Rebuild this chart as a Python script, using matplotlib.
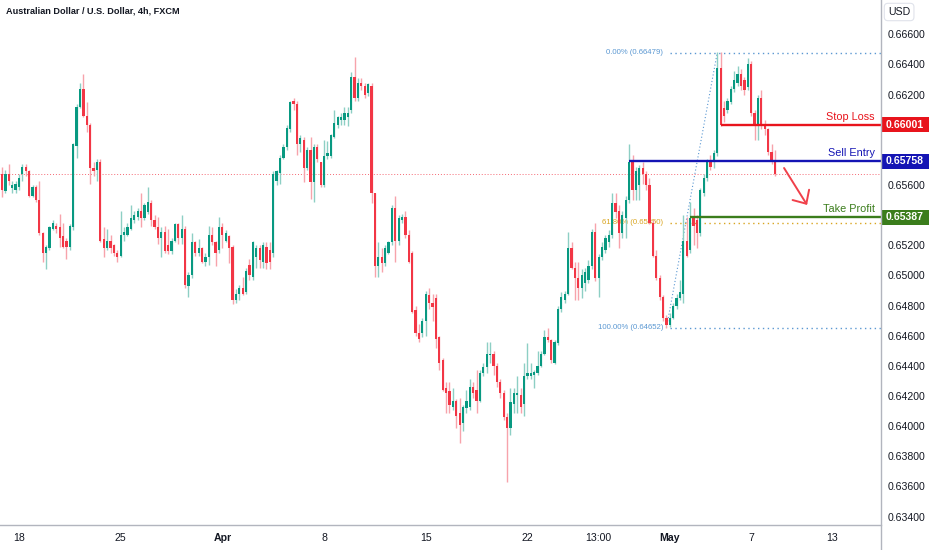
import matplotlib
matplotlib.use("Agg")
import matplotlib.pyplot as plt
import numpy as np
from matplotlib.transforms import blended_transform_factory
from matplotlib.patches import Rectangle
from matplotlib.lines import Line2D

plt.rcParams['font.family'] = ['Liberation Sans', 'DejaVu Sans']

# ---------------- data (AUD/USD, 4h candles) ----------------
opens = [
    0.6567, 0.6556, 0.6567, 0.6558, 0.6557, 0.6559, 0.6567, 0.6572, 0.6569, 0.6553,
    0.6559, 0.6550, 0.6528, 0.6515, 0.6518, 0.6531, 0.6533, 0.6532, 0.6526, 0.6523,
    0.6519, 0.6532, 0.6586, 0.6612, 0.6624, 0.6606, 0.6600, 0.6571, 0.6570, 0.6575,
    0.6524, 0.6518, 0.6523, 0.6520, 0.6515, 0.6513, 0.6527, 0.6527, 0.6531, 0.6537,
    0.6539, 0.6543, 0.6538, 0.6542, 0.6548, 0.6537, 0.6532, 0.6525, 0.6529, 0.6520,
    0.6516, 0.6523, 0.6534, 0.6525, 0.6531, 0.6493, 0.6500, 0.6522, 0.6515, 0.6518,
    0.6509, 0.6512, 0.6527, 0.6522, 0.6517, 0.6532, 0.6523, 0.6526, 0.6519, 0.6484,
    0.6488, 0.6492, 0.6489, 0.6507, 0.6499, 0.6512, 0.6518, 0.6509, 0.6519, 0.6517,
    0.6515, 0.6563, 0.6568, 0.6578, 0.6585, 0.6597, 0.6616, 0.6614, 0.6587, 0.6590,
    0.6571, 0.6583, 0.6562, 0.6585, 0.6575, 0.6560, 0.6579, 0.6579, 0.6592, 0.6600,
    0.6603, 0.6603, 0.6605, 0.6610, 0.6632, 0.6618, 0.6628, 0.6626, 0.6621, 0.6626,
    0.6555, 0.6506, 0.6512, 0.6508, 0.6515, 0.6522, 0.6545, 0.6523, 0.6537, 0.6539,
    0.6527, 0.6515, 0.6477, 0.6462, 0.6462, 0.6470, 0.6487, 0.6482, 0.6485, 0.6459,
    0.6444, 0.6425, 0.6423, 0.6413, 0.6417, 0.6409, 0.6402, 0.6412, 0.6413, 0.6426,
    0.6424, 0.6417, 0.6435, 0.6439, 0.6447, 0.6448, 0.6440, 0.6429, 0.6422, 0.6406,
    0.6399, 0.6415, 0.6421, 0.6421, 0.6415, 0.6433, 0.6433, 0.6434, 0.6435, 0.6440,
    0.6448, 0.6459, 0.6457, 0.6442, 0.6455, 0.6478, 0.6484, 0.6488, 0.6518, 0.6505,
    0.6498, 0.6492, 0.6495, 0.6497, 0.6506, 0.6529, 0.6498, 0.6512, 0.6517, 0.6522,
    0.6527, 0.6548, 0.6543, 0.6528, 0.6538, 0.6550, 0.6575, 0.6557, 0.6560, 0.6571,
    0.6567, 0.6560, 0.6535, 0.6513, 0.6498, 0.6486, 0.6472, 0.6467, 0.6472, 0.6480,
    0.6485, 0.6488, 0.6523, 0.6517, 0.6538, 0.6537, 0.6528, 0.6555, 0.6565, 0.6575,
    0.6575, 0.6581, 0.6638, 0.6611, 0.6610, 0.6615, 0.6624, 0.6628, 0.6634, 0.6630,
    0.6625, 0.6640, 0.6608, 0.6600, 0.6618, 0.6600, 0.6597, 0.6582, 0.6575,
]
highs = [
    0.6572, 0.6570, 0.6574, 0.6563, 0.6563, 0.6567, 0.6574, 0.6574, 0.6570, 0.6560,
    0.6560, 0.6563, 0.6529, 0.6520, 0.6533, 0.6537, 0.6535, 0.6541, 0.6535, 0.6525,
    0.6534, 0.6588, 0.6614, 0.6628, 0.6634, 0.6615, 0.6601, 0.6575, 0.6577, 0.6577,
    0.6532, 0.6531, 0.6527, 0.6521, 0.6517, 0.6543, 0.6532, 0.6535, 0.6547, 0.6543,
    0.6545, 0.6555, 0.6548, 0.6559, 0.6550, 0.6540, 0.6539, 0.6532, 0.6533, 0.6531,
    0.6525, 0.6535, 0.6535, 0.6540, 0.6533, 0.6502, 0.6528, 0.6523, 0.6524, 0.6519,
    0.6515, 0.6533, 0.6532, 0.6523, 0.6539, 0.6535, 0.6530, 0.6527, 0.6520, 0.6491,
    0.6494, 0.6499, 0.6505, 0.6511, 0.6523, 0.6520, 0.6520, 0.6522, 0.6522, 0.6522,
    0.6569, 0.6570, 0.6580, 0.6587, 0.6600, 0.6616, 0.6618, 0.6616, 0.6593, 0.6592,
    0.6585, 0.6592, 0.6587, 0.6587, 0.6575, 0.6590, 0.6589, 0.6594, 0.6610, 0.6606,
    0.6608, 0.6612, 0.6612, 0.6635, 0.6645, 0.6631, 0.6631, 0.6628, 0.6628, 0.6628,
    0.6555, 0.6522, 0.6518, 0.6520, 0.6523, 0.6547, 0.6553, 0.6540, 0.6541, 0.6543,
    0.6530, 0.6516, 0.6480, 0.6468, 0.6472, 0.6490, 0.6492, 0.6488, 0.6488, 0.6460,
    0.6445, 0.6429, 0.6429, 0.6425, 0.6418, 0.6419, 0.6414, 0.6424, 0.6431, 0.6429,
    0.6437, 0.6437, 0.6442, 0.6456, 0.6456, 0.6450, 0.6442, 0.6431, 0.6424, 0.6409,
    0.6425, 0.6425, 0.6433, 0.6425, 0.6442, 0.6455, 0.6442, 0.6437, 0.6450, 0.6450,
    0.6464, 0.6465, 0.6458, 0.6457, 0.6480, 0.6489, 0.6490, 0.6529, 0.6522, 0.6509,
    0.6509, 0.6504, 0.6505, 0.6510, 0.6531, 0.6535, 0.6514, 0.6522, 0.6527, 0.6530,
    0.6555, 0.6555, 0.6547, 0.6543, 0.6553, 0.6587, 0.6580, 0.6572, 0.6573, 0.6575,
    0.6569, 0.6565, 0.6537, 0.6517, 0.6500, 0.6487, 0.6474, 0.6475, 0.6482, 0.6488,
    0.6497, 0.6540, 0.6539, 0.6549, 0.6545, 0.6540, 0.6558, 0.6567, 0.6577, 0.6580,
    0.6583, 0.6648, 0.6648, 0.6616, 0.6618, 0.6626, 0.6636, 0.6639, 0.6637, 0.6632,
    0.6644, 0.6642, 0.6610, 0.6620, 0.6623, 0.6603, 0.6598, 0.6587, 0.6583,
]
lows = [
    0.6552, 0.6555, 0.6560, 0.6555, 0.6555, 0.6557, 0.6563, 0.6566, 0.6552, 0.6552,
    0.6549, 0.6527, 0.6509, 0.6504, 0.6517, 0.6530, 0.6528, 0.6519, 0.6518, 0.6511,
    0.6517, 0.6530, 0.6578, 0.6611, 0.6605, 0.6595, 0.6561, 0.6566, 0.6563, 0.6522,
    0.6512, 0.6517, 0.6515, 0.6513, 0.6509, 0.6512, 0.6523, 0.6526, 0.6530, 0.6535,
    0.6537, 0.6532, 0.6537, 0.6541, 0.6533, 0.6531, 0.6521, 0.6512, 0.6515, 0.6514,
    0.6514, 0.6522, 0.6521, 0.6521, 0.6492, 0.6486, 0.6498, 0.6513, 0.6513, 0.6508,
    0.6506, 0.6507, 0.6520, 0.6506, 0.6515, 0.6518, 0.6522, 0.6508, 0.6481, 0.6482,
    0.6484, 0.6487, 0.6488, 0.6497, 0.6497, 0.6505, 0.6505, 0.6505, 0.6504, 0.6504,
    0.6512, 0.6560, 0.6561, 0.6577, 0.6583, 0.6595, 0.6610, 0.6580, 0.6582, 0.6562,
    0.6570, 0.6551, 0.6549, 0.6575, 0.6559, 0.6559, 0.6577, 0.6578, 0.6591, 0.6598,
    0.6600, 0.6600, 0.6599, 0.6608, 0.6616, 0.6616, 0.6623, 0.6618, 0.6619, 0.6548,
    0.6499, 0.6499, 0.6502, 0.6506, 0.6514, 0.6520, 0.6509, 0.6520, 0.6535, 0.6525,
    0.6508, 0.6475, 0.6460, 0.6456, 0.6459, 0.6460, 0.6478, 0.6470, 0.6452, 0.6437,
    0.6423, 0.6409, 0.6409, 0.6411, 0.6399, 0.6389, 0.6397, 0.6409, 0.6411, 0.6419,
    0.6409, 0.6416, 0.6433, 0.6435, 0.6442, 0.6434, 0.6426, 0.6419, 0.6404, 0.6363,
    0.6394, 0.6409, 0.6409, 0.6409, 0.6407, 0.6431, 0.6431, 0.6425, 0.6434, 0.6439,
    0.6447, 0.6456, 0.6442, 0.6441, 0.6454, 0.6476, 0.6482, 0.6487, 0.6504, 0.6484,
    0.6484, 0.6485, 0.6490, 0.6495, 0.6504, 0.6496, 0.6486, 0.6510, 0.6515, 0.6519,
    0.6525, 0.6538, 0.6518, 0.6525, 0.6525, 0.6548, 0.6550, 0.6550, 0.6550, 0.6561,
    0.6557, 0.6534, 0.6512, 0.6497, 0.6484, 0.6470, 0.6465, 0.6466, 0.6471, 0.6478,
    0.6484, 0.6482, 0.6512, 0.6515, 0.6520, 0.6518, 0.6526, 0.6553, 0.6563, 0.6570,
    0.6571, 0.6579, 0.6599, 0.6602, 0.6608, 0.6614, 0.6622, 0.6626, 0.6623, 0.6620,
    0.6623, 0.6606, 0.6590, 0.6590, 0.6597, 0.6593, 0.6580, 0.6574, 0.6566,
]
closes = [
    0.6557, 0.6567, 0.6563, 0.6560, 0.6561, 0.6565, 0.6572, 0.6569, 0.6553, 0.6559,
    0.6550, 0.6528, 0.6515, 0.6519, 0.6532, 0.6535, 0.6531, 0.6525, 0.6519, 0.6519,
    0.6533, 0.6587, 0.6612, 0.6624, 0.6606, 0.6600, 0.6571, 0.6569, 0.6575, 0.6523,
    0.6518, 0.6523, 0.6518, 0.6515, 0.6512, 0.6527, 0.6529, 0.6532, 0.6538, 0.6540,
    0.6543, 0.6538, 0.6547, 0.6549, 0.6537, 0.6532, 0.6525, 0.6529, 0.6516, 0.6516,
    0.6523, 0.6534, 0.6525, 0.6531, 0.6494, 0.6500, 0.6522, 0.6515, 0.6518, 0.6509,
    0.6512, 0.6527, 0.6522, 0.6515, 0.6532, 0.6527, 0.6528, 0.6518, 0.6484, 0.6488,
    0.6492, 0.6488, 0.6503, 0.6500, 0.6522, 0.6518, 0.6510, 0.6520, 0.6508, 0.6509,
    0.6567, 0.6569, 0.6578, 0.6585, 0.6598, 0.6615, 0.6614, 0.6587, 0.6591, 0.6571,
    0.6583, 0.6562, 0.6585, 0.6577, 0.6560, 0.6579, 0.6581, 0.6593, 0.6601, 0.6605,
    0.6605, 0.6608, 0.6608, 0.6632, 0.6618, 0.6628, 0.6626, 0.6620, 0.6627, 0.6555,
    0.6506, 0.6512, 0.6508, 0.6518, 0.6522, 0.6545, 0.6523, 0.6538, 0.6539, 0.6527,
    0.6509, 0.6476, 0.6462, 0.6458, 0.6470, 0.6488, 0.6482, 0.6479, 0.6458, 0.6442,
    0.6424, 0.6422, 0.6414, 0.6417, 0.6407, 0.6401, 0.6413, 0.6417, 0.6426, 0.6422,
    0.6417, 0.6435, 0.6439, 0.6448, 0.6448, 0.6440, 0.6429, 0.6422, 0.6406, 0.6399,
    0.6416, 0.6422, 0.6422, 0.6413, 0.6433, 0.6435, 0.6435, 0.6436, 0.6440, 0.6448,
    0.6459, 0.6457, 0.6444, 0.6456, 0.6478, 0.6486, 0.6488, 0.6518, 0.6505, 0.6498,
    0.6492, 0.6500, 0.6502, 0.6506, 0.6529, 0.6498, 0.6512, 0.6519, 0.6525, 0.6527,
    0.6548, 0.6542, 0.6528, 0.6540, 0.6550, 0.6575, 0.6557, 0.6569, 0.6571, 0.6567,
    0.6560, 0.6535, 0.6513, 0.6498, 0.6486, 0.6472, 0.6467, 0.6472, 0.6480, 0.6485,
    0.6489, 0.6523, 0.6513, 0.6538, 0.6533, 0.6528, 0.6557, 0.6565, 0.6575, 0.6572,
    0.6581, 0.6638, 0.6600, 0.6606, 0.6616, 0.6624, 0.6630, 0.6634, 0.6626, 0.6623,
    0.6640, 0.6608, 0.6599, 0.6618, 0.6600, 0.6597, 0.6582, 0.6575, 0.6567,
]

x_tick_pos = [5, 35, 65, 95, 125, 155, 176, 197, 221, 245]
x_tick_labels = ["18", "25", "Apr", "8", "15", "22", "13:00", "May", "7", "13"]
# price-axis labels that are visible (0.660 and 0.654 sit under the level tags)
y_ticks = [0.634, 0.636, 0.638, 0.640, 0.642, 0.644, 0.646, 0.648, 0.650,
           0.652, 0.656, 0.662, 0.664, 0.666]

level_names = ["Stop Loss", "Sell Entry", "Take Profit"]
level_prices = [0.66001, 0.65758, 0.65387]
level_start = [212, 185, 203]

fib_pcts = ["0.00%", "61.80%", "100.00%"]
fib_prices = [0.66479, 0.65350, 0.64652]
fib_low_idx = 196
fib_high_idx = 211

title = "Australian Dollar / U.S. Dollar, 4h, FXCM"

# ---------------- styling ----------------
UP = '#089981'
DN = '#f23645'
UP_W = '#8dcfc4'
DN_W = '#f7a3ab'
level_colors = ['#e8141c', '#1414b4', '#3b7d1c']
fib_blue = '#5b98d2'
fib_gold = '#d9a520'
TXT = '#131722'
AX = '#b2b5be'

W, H = 932, 550
fig = plt.figure(figsize=(W / 100, H / 100), dpi=100)
ax_left, ax_right, ax_bottom = 0, 881, 25
ax = fig.add_axes([ax_left / W, ax_bottom / H, (ax_right - ax_left) / W, (H - ax_bottom) / H])
XMAX = 259.3
ax.set_xlim(-0.6, XMAX)
ax.set_ylim(0.63344, 0.66828)

o = np.array(opens); h = np.array(highs); l = np.array(lows); c = np.array(closes)
idx = np.arange(len(c))
up = c >= o
body_col = np.where(up, UP, DN)
wick_col = np.where(up, UP_W, DN_W)

ax.vlines(idx, l, h, colors=wick_col, linewidth=1.0, zorder=3)
body_h = np.maximum(np.abs(c - o), 0.00005)
ax.bar(idx, body_h, bottom=np.minimum(o, c), width=0.66, color=body_col,
       linewidth=0, zorder=4)

# current price line
ax.axhline(c[-1], color=DN, lw=0.7, ls=(0, (1, 2)), alpha=0.75, zorder=1)

# fib retracement
fib_cols = [fib_blue, fib_gold, fib_blue]
for pct, pr, col in zip(fib_pcts, fib_prices, fib_cols):
    ax.hlines(pr, fib_low_idx + 1.2, XMAX, color=col, lw=1.0, ls=(0, (1, 2.5)), zorder=2)
    ax.text(fib_low_idx - 1, pr, f"{pct} ({pr:.5f})", ha='right', va='center',
            fontsize=5.6, color=col, zorder=2)
ax.plot([fib_low_idx, fib_high_idx], [fib_prices[2], fib_prices[0]], color=fib_blue,
        lw=0.8, ls=(0, (1, 2)), zorder=2)

# levels
trans = blended_transform_factory(fig.transFigure, ax.transData)
px_to_price = (0.66828 - 0.63344) / 525.0
tag_h = 15 * px_to_price
for name, pr, st, col in zip(level_names, level_prices, level_start, level_colors):
    ax.hlines(pr, st, XMAX, color=col, lw=1.7, zorder=5)
    ax.annotate(name, xy=(1, pr), xycoords=('axes fraction', 'data'),
                xytext=(-4.5, 2.2), textcoords='offset points', ha='right', va='bottom',
                color=col, fontsize=7.8, zorder=6)
    ax.add_patch(Rectangle((881.5 / W, pr - tag_h / 2), 47 / W, tag_h, transform=trans,
                           facecolor=col, edgecolor='none', clip_on=False, zorder=10))
    ax.text(905 / W, pr, f"{pr:.5f}", transform=trans, ha='center', va='center',
            color='white', fontsize=7.6, fontweight='bold', zorder=11, clip_on=False)

# arrow
ax.annotate('', xy=(237.5, 0.65468), xytext=(230.7, 0.65713),
            arrowprops=dict(arrowstyle='->,head_length=0.75,head_width=0.7',
                            color='#f0404a', lw=1.4, shrinkA=0, shrinkB=0),
            annotation_clip=False, zorder=6)

# axes
ax.yaxis.tick_right()
ax.set_yticks(y_ticks)
ax.set_yticklabels([f"{v:.5f}" for v in y_ticks])
ax.tick_params(axis='y', length=0, pad=5, labelsize=7.6, labelcolor=TXT)
ax.set_xticks(x_tick_pos)
ax.set_xticklabels(x_tick_labels)
ax.tick_params(axis='x', length=0, pad=6, labelsize=7.6, labelcolor=TXT)
for lab in ax.get_xticklabels():
    if lab.get_text() in ("Apr", "May"):
        lab.set_fontweight('bold')
for s in ('top', 'left', 'right'):
    ax.spines[s].set_visible(False)
ax.spines['bottom'].set_color(AX)
ax.spines['bottom'].set_linewidth(1.0)
fig.add_artist(Line2D([ax_right / W, ax_right / W], [0, 1], color=AX, lw=1.0))

fig.text(888 / W, 1 - 12 / H, "USD", fontsize=7.6, color=TXT, va='center', ha='left',
         bbox=dict(boxstyle='round,pad=0.35', fc='white', ec='#e0e3eb', lw=0.8))
fig.text(6 / W, 1 - 11 / H, title, fontsize=6.6, color=TXT, va='center', ha='left',
         fontweight='bold')

fig.savefig("out.png", dpi=100, facecolor='white')
